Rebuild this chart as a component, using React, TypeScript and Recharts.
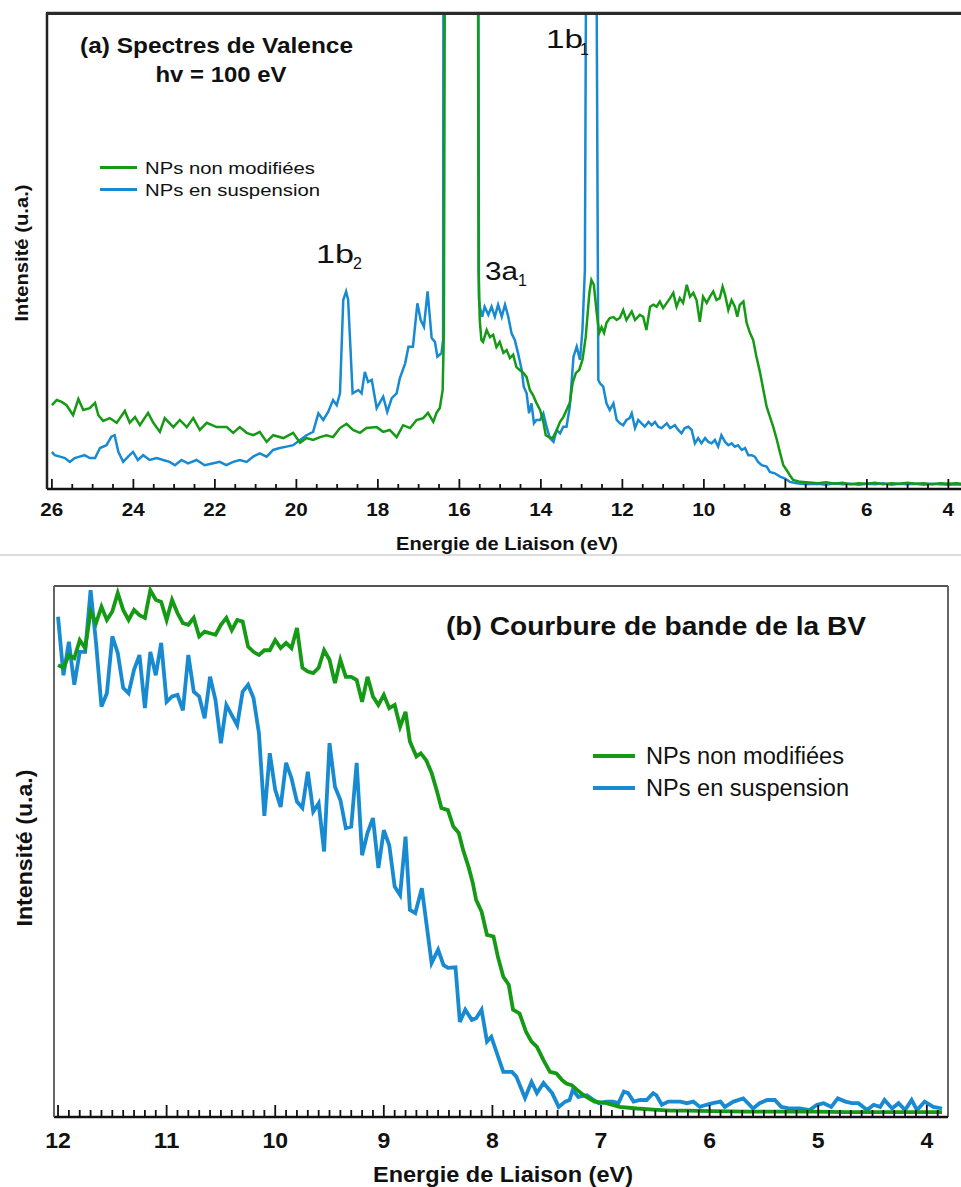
import { LineChart, Line, XAxis, YAxis, ReferenceLine } from 'recharts'

const GREEN = '#149a14'
const BLUE = '#178ad2'
const INK = '#111'
const FONT = '"Liberation Sans", Arial, Helvetica, sans-serif'

// (a) valence spectra, hv = 100 eV : [binding energy (eV), intensity (u.a.)]
const valenceNonModifiees: [number, number][] = [
  [26.0, 17.6], [25.88, 18.7], [25.76, 18.3], [25.64, 17.6], [25.48, 15.5], [25.35, 18.9], [25.23, 16.6],
  [25.07, 17.0], [24.94, 18.1], [24.86, 15.5], [24.74, 14.3], [24.58, 14.9], [24.41, 13.9], [24.21, 16.4],
  [24.09, 13.9], [23.96, 15.1], [23.84, 13.4], [23.64, 16.0], [23.51, 13.9], [23.35, 12.0], [23.23, 14.9],
  [23.02, 13.0], [22.86, 14.5], [22.69, 13.0], [22.53, 14.9], [22.37, 12.4], [22.2, 13.9], [21.96, 13.0],
  [21.71, 13.0], [21.55, 11.8], [21.39, 13.0], [21.22, 11.8], [21.06, 11.3], [20.9, 12.0], [20.73, 9.9],
  [20.57, 11.3], [20.32, 10.7], [20.08, 11.8], [19.91, 9.7], [19.75, 10.7], [19.59, 10.3], [19.42, 10.9],
  [19.26, 11.3], [19.1, 10.9], [18.93, 12.8], [18.77, 13.7], [18.61, 12.4], [18.44, 11.8], [18.28, 12.8],
  [18.03, 13.0], [17.87, 12.0], [17.71, 12.4], [17.54, 10.9], [17.38, 13.4], [17.21, 12.8], [17.05, 14.5],
  [16.89, 14.9], [16.77, 16.0], [16.64, 14.1], [16.56, 16.0], [16.48, 17.0], [16.41, 20.8], [16.38, 33.4],
  [16.3, 300], [16.0, 900], [15.56, 200], [15.53, 46], [15.5, 35.5], [15.46, 31.3], [15.42, 30.9],
  [15.33, 33.4], [15.25, 31.9], [15.17, 32.4], [15.09, 29.8], [15.01, 30.9], [14.92, 28.6], [14.84, 29.2],
  [14.76, 27.5], [14.68, 28.2], [14.6, 25.6], [14.52, 25.0], [14.43, 24.4], [14.35, 23.5], [14.27, 20.8],
  [14.19, 19.7], [14.11, 18.1], [14.02, 16.6], [13.94, 14.1], [13.88, 11.3], [13.8, 10.9], [13.71, 10.7],
  [13.61, 12.4], [13.53, 14.1], [13.45, 15.1], [13.37, 16.6], [13.29, 18.1], [13.22, 22.3], [13.14, 24.4],
  [13.06, 25.0], [12.98, 27.1], [12.9, 31.9], [12.81, 41.2], [12.76, 43.9], [12.7, 42.9], [12.63, 37.0],
  [12.57, 32.8], [12.51, 34.0], [12.45, 32.8], [12.39, 34.9], [12.31, 35.9], [12.22, 36.1], [12.14, 35.5],
  [12.06, 36.0], [11.98, 37.6], [11.9, 35.5], [11.77, 37.3], [11.69, 35.5], [11.57, 36.6], [11.49, 36.2],
  [11.41, 33.4], [11.32, 38.3], [11.24, 38.7], [11.16, 38.3], [11.08, 39.4], [11.0, 38.0], [10.91, 39.1],
  [10.83, 40.1], [10.75, 41.2], [10.67, 38.3], [10.59, 40.1], [10.51, 39.1], [10.42, 42.9], [10.34, 40.4],
  [10.26, 41.2], [10.18, 39.7], [10.1, 35.1], [10.02, 40.4], [9.93, 39.1], [9.85, 40.4], [9.77, 41.5],
  [9.69, 39.7], [9.61, 40.1], [9.54, 42.5], [9.48, 40.8], [9.4, 37.6], [9.32, 39.7], [9.24, 38.3],
  [9.18, 36.2], [9.12, 38.7], [9.03, 39.4], [8.95, 34.9], [8.87, 32.8], [8.79, 31.3], [8.71, 27.8],
  [8.62, 24.4], [8.54, 20.8], [8.46, 17.3], [8.38, 15.2], [8.3, 13.1], [8.22, 10.7], [8.13, 7.6],
  [8.05, 5.0], [7.97, 4.0], [7.89, 2.9], [7.81, 1.9], [7.64, 1.5], [7.48, 1.4], [7.2, 1.2], [7.0, 1.4],
  [6.8, 1.1], [6.6, 1.3], [6.4, 1.0], [6.2, 1.2], [6.0, 1.1], [5.8, 1.3], [5.6, 1.0], [5.4, 1.2],
  [5.2, 1.1], [5.0, 1.3], [4.8, 1.1], [4.6, 1.2], [4.4, 1.0], [4.2, 1.2], [4.0, 1.1], [3.8, 1.2], [3.69, 1.1],
]

const valenceSuspension: [number, number][] = [
  [26.0, 7.8], [25.93, 7.1], [25.8, 6.8], [25.68, 6.5], [25.56, 5.7], [25.44, 6.5], [25.32, 6.8],
  [25.2, 7.1], [25.07, 6.5], [24.94, 6.5], [24.82, 8.6], [24.66, 9.2], [24.54, 11.0], [24.46, 11.3],
  [24.37, 7.8], [24.25, 5.7], [24.13, 6.8], [24.01, 7.8], [23.89, 6.1], [23.76, 7.1], [23.6, 6.1],
  [23.43, 6.5], [23.27, 6.1], [23.11, 5.7], [22.98, 5.0], [22.82, 6.1], [22.66, 5.4], [22.45, 6.1],
  [22.25, 5.0], [22.04, 5.4], [21.88, 5.7], [21.72, 5.0], [21.55, 5.7], [21.39, 6.1], [21.22, 5.7],
  [21.06, 6.8], [20.9, 7.5], [20.73, 6.8], [20.57, 8.2], [20.41, 8.6], [20.24, 8.9], [20.08, 9.2],
  [19.91, 10.3], [19.75, 11.3], [19.59, 12.0], [19.46, 15.9], [19.34, 14.5], [19.22, 16.2], [19.1, 18.7],
  [19.01, 17.6], [18.93, 20.1], [18.85, 39.7], [18.78, 41.5], [18.73, 39.7], [18.62, 20.1], [18.48, 20.8],
  [18.4, 20.1], [18.32, 24.6], [18.24, 22.5], [18.15, 22.9], [18.03, 17.0], [17.87, 19.4], [17.77, 16.2],
  [17.66, 19.1], [17.54, 20.1], [17.46, 23.3], [17.33, 26.4], [17.25, 29.9], [17.14, 29.9], [17.03, 39.0],
  [16.95, 35.5], [16.87, 34.1], [16.78, 41.5], [16.68, 31.7], [16.6, 30.9], [16.54, 27.8], [16.44, 28.5],
  [16.4, 31.3], [16.37, 300], [16.0, 900], [15.57, 300], [15.52, 40.0], [15.5, 38.3], [15.44, 36.2],
  [15.38, 38.3], [15.29, 36.6], [15.21, 38.3], [15.13, 36.2], [15.05, 38.7], [14.96, 36.2], [14.88, 38.7],
  [14.8, 36.2], [14.72, 32.7], [14.64, 31.3], [14.56, 28.5], [14.47, 25.0], [14.42, 21.5], [14.35, 20.1],
  [14.29, 15.9], [14.23, 18.0], [14.17, 13.8], [14.11, 14.5], [14.02, 14.5], [13.94, 15.9], [13.86, 13.1],
  [13.78, 10.7], [13.69, 9.9], [13.61, 12.4], [13.53, 11.7], [13.45, 13.1], [13.37, 13.1], [13.29, 17.3],
  [13.2, 27.8], [13.12, 29.9], [13.04, 27.1], [12.98, 33.4], [12.92, 46.0], [12.85, 200], [12.77, 300],
  [12.68, 200], [12.59, 22.9], [12.55, 22.2], [12.47, 21.5], [12.39, 18.0], [12.31, 16.6], [12.22, 18.0],
  [12.14, 14.5], [12.06, 13.8], [11.98, 13.4], [11.9, 14.5], [11.82, 14.9], [11.77, 15.9], [11.69, 12.8],
  [11.61, 14.5], [11.53, 13.8], [11.45, 13.1], [11.36, 14.1], [11.28, 13.4], [11.2, 14.1], [11.12, 13.1],
  [11.04, 12.8], [10.91, 13.8], [10.83, 12.8], [10.71, 13.4], [10.63, 12.4], [10.55, 11.7], [10.47, 12.8],
  [10.38, 13.1], [10.3, 12.4], [10.22, 9.6], [10.14, 10.7], [10.06, 9.6], [9.97, 10.7], [9.89, 9.9],
  [9.81, 9.6], [9.73, 10.3], [9.65, 8.9], [9.57, 11.3], [9.48, 9.9], [9.4, 9.2], [9.32, 9.6], [9.24, 8.9],
  [9.16, 9.2], [9.07, 8.2], [8.99, 8.6], [8.91, 7.1], [8.83, 7.1], [8.75, 6.8], [8.67, 5.7], [8.58, 5.0],
  [8.46, 4.7], [8.38, 3.6], [8.26, 3.3], [8.13, 2.6], [8.01, 2.2], [7.89, 1.5], [7.72, 1.2], [7.5, 1.0],
  [7.2, 1.1], [7.0, 0.9], [6.8, 1.2], [6.6, 1.0], [6.4, 1.1], [6.2, 0.9], [6.0, 1.1], [5.8, 1.0],
  [5.6, 1.2], [5.4, 0.9], [5.2, 1.1], [5.0, 1.0], [4.8, 1.1], [4.6, 0.9], [4.4, 1.1], [4.2, 1.0],
  [4.0, 0.9], [3.8, 1.0], [3.69, 0.9],
]

// (b) band bending of the valence band edge
const bandNonModifiees: [number, number][] = [
  [12.0, 85.1], [11.95, 84.6], [11.9, 87.0], [11.85, 86.4], [11.8, 89.8], [11.75, 88.3], [11.7, 95.2],
  [11.65, 93.0], [11.6, 96.1], [11.55, 93.6], [11.5, 95.2], [11.45, 98.7], [11.4, 95.5], [11.35, 93.6],
  [11.3, 95.5], [11.25, 94.5], [11.2, 94.0], [11.15, 99.2], [11.1, 97.4], [11.05, 97.0], [11.0, 93.6],
  [10.95, 97.4], [10.9, 94.9], [10.85, 93.0], [10.8, 92.7], [10.75, 94.0], [10.7, 90.5], [10.65, 91.4],
  [10.6, 91.1], [10.55, 90.8], [10.5, 92.7], [10.45, 94.0], [10.4, 91.7], [10.35, 93.6], [10.3, 93.3],
  [10.25, 88.6], [10.2, 87.6], [10.15, 87.0], [10.1, 87.9], [10.05, 87.9], [10.0, 89.8], [9.95, 88.3],
  [9.9, 89.3], [9.85, 88.3], [9.8, 92.1], [9.75, 84.6], [9.7, 83.9], [9.65, 83.6], [9.6, 84.6],
  [9.55, 87.9], [9.5, 86.1], [9.45, 81.7], [9.4, 86.1], [9.35, 82.9], [9.3, 82.9], [9.25, 82.3],
  [9.2, 78.2], [9.15, 82.9], [9.1, 79.2], [9.05, 77.6], [9.0, 79.5], [8.95, 77.0], [8.9, 77.6],
  [8.85, 73.5], [8.8, 76.3], [8.76, 70.7], [8.7, 67.9], [8.66, 68.5], [8.61, 67.2], [8.56, 64.8],
  [8.51, 61.3], [8.47, 58.2], [8.41, 57.8], [8.36, 54.7], [8.31, 53.5], [8.27, 50.3], [8.22, 47.1],
  [8.18, 44.0], [8.15, 40.9], [8.1, 38.7], [8.05, 34.3], [7.99, 34.0], [7.95, 30.2], [7.9, 26.4],
  [7.85, 24.9], [7.81, 20.2], [7.75, 19.5], [7.69, 16.0], [7.64, 14.2], [7.59, 13.2], [7.53, 10.7],
  [7.47, 8.5], [7.41, 8.2], [7.36, 7.0], [7.32, 6.3], [7.27, 6.0], [7.22, 5.1], [7.16, 4.1], [7.06, 2.9],
  [6.95, 2.6], [6.83, 1.9], [6.67, 1.6], [6.52, 1.4], [6.36, 1.2], [6.21, 1.2], [5.97, 1.1], [5.66, 1.0],
  [5.35, 1.0], [5.05, 1.0], [4.74, 0.9], [4.43, 0.9], [3.86, 0.9],
]

const bandSuspension: [number, number][] = [
  [12.0, 94.2], [11.95, 83.2], [11.9, 89.5], [11.85, 81.4], [11.8, 87.6], [11.75, 87.6], [11.7, 99.2],
  [11.65, 89.3], [11.6, 77.3], [11.55, 79.8], [11.5, 90.5], [11.45, 87.4], [11.4, 80.8], [11.35, 79.8],
  [11.3, 84.2], [11.25, 87.0], [11.2, 77.0], [11.15, 87.6], [11.1, 83.2], [11.05, 89.3], [11.0, 78.2],
  [10.95, 79.2], [10.9, 79.5], [10.85, 76.6], [10.8, 87.0], [10.75, 80.1], [10.7, 79.2], [10.65, 75.1],
  [10.6, 82.9], [10.55, 78.5], [10.5, 70.4], [10.45, 77.6], [10.4, 75.7], [10.35, 73.8], [10.3, 80.1],
  [10.25, 81.4], [10.2, 78.9], [10.15, 72.3], [10.1, 56.7], [10.05, 68.5], [10.0, 61.6], [9.95, 58.4],
  [9.9, 66.7], [9.85, 63.8], [9.8, 59.4], [9.75, 58.2], [9.7, 65.0], [9.65, 57.5], [9.6, 59.1],
  [9.55, 50.0], [9.5, 70.4], [9.45, 62.2], [9.4, 59.7], [9.35, 54.4], [9.3, 54.7], [9.25, 66.7],
  [9.2, 49.3], [9.15, 53.5], [9.1, 56.3], [9.05, 46.9], [9.0, 54.0], [8.95, 51.2], [8.9, 43.4],
  [8.85, 41.8], [8.8, 52.8], [8.76, 39.0], [8.71, 38.4], [8.65, 43.1], [8.56, 29.0], [8.5, 31.5],
  [8.45, 28.6], [8.41, 28.1], [8.34, 28.2], [8.3, 17.9], [8.25, 20.2], [8.19, 18.3], [8.15, 18.6],
  [8.1, 20.2], [8.05, 14.2], [8.01, 15.1], [7.96, 12.1], [7.9, 8.5], [7.82, 8.5], [7.78, 7.6], [7.7, 3.6],
  [7.64, 6.6], [7.59, 4.5], [7.53, 6.4], [7.45, 4.5], [7.39, 1.9], [7.33, 2.9], [7.29, 3.2], [7.26, 5.1],
  [7.21, 3.8], [7.13, 4.1], [7.07, 3.2], [7.02, 2.6], [6.95, 2.9], [6.89, 2.9], [6.84, 2.6], [6.79, 4.8],
  [6.75, 4.5], [6.7, 2.9], [6.64, 3.2], [6.58, 3.2], [6.52, 4.5], [6.49, 4.1], [6.44, 2.3], [6.38, 2.9],
  [6.33, 2.9], [6.27, 2.9], [6.21, 2.6], [6.15, 2.9], [6.09, 1.9], [6.03, 2.3], [5.97, 2.6], [5.9, 2.9],
  [5.86, 1.9], [5.78, 2.9], [5.69, 3.5], [5.6, 1.6], [5.54, 2.6], [5.47, 3.2], [5.4, 3.2], [5.34, 1.9],
  [5.26, 1.6], [5.17, 1.6], [5.08, 1.3], [5.01, 2.3], [4.95, 2.6], [4.88, 1.9], [4.82, 3.5], [4.75, 2.9],
  [4.69, 2.6], [4.63, 2.6], [4.55, 1.3], [4.49, 2.3], [4.43, 1.9], [4.39, 3.2], [4.32, 1.6], [4.26, 2.6],
  [4.2, 1.3], [4.14, 3.2], [4.09, 1.3], [4.02, 2.9], [3.94, 1.9], [3.86, 1.6],
]

const VALENCE_LABELS = [26, 24, 22, 20, 18, 16, 14, 12, 10, 8, 6, 4]
const BAND_LABELS = [12, 11, 10, 9, 8, 7, 6, 5, 4]

// minor ticks: every 0.5 eV on (a), every 0.1 eV on (b)
const valenceTicks = Array.from({ length: 45 }, (_, i) => 26 - i * 0.5)
const bandTicks = Array.from({ length: 82 }, (_, i) => Math.round(120 - i) / 10)

const toPts = (arr: [number, number][]) => arr.map(([e, v]) => ({ e, v }))

function makeTick(labels: number[], majorLen: number, minorLen: number, fontSize: number, dy: number, digitW: number) {
  return (props: any) => {
    const { x, y, payload } = props
    const val = payload.value
    const major = labels.some(l => Math.abs(l - val) < 1e-6)
    const txt = String(Math.round(val))
    return (
      <g>
        <line x1={x} x2={x} y1={y} y2={y - (major ? majorLen : minorLen)} stroke={INK} strokeWidth={1.8} />
        {major && (
          <text
            x={x} y={y + dy} textAnchor="middle" fontFamily={FONT} fontWeight="bold"
            fontSize={fontSize} fill={INK} textLength={txt.length * digitW} lengthAdjust="spacingAndGlyphs"
          >
            {txt}
          </text>
        )}
      </g>
    )
  }
}

const valenceTick = makeTick(VALENCE_LABELS, 10, 5, 18, 26.5, 11.5)
const bandTick = makeTick(BAND_LABELS, 12, 7, 22, 31, 12.8)

function T(p: { x: number; y: number; size: number; len?: number; bold?: boolean; anchor?: string; rotate?: boolean; children: any }) {
  const common = {
    fontFamily: FONT,
    fontSize: p.size,
    fontWeight: p.bold ? 'bold' : 'normal',
    fill: INK,
    textAnchor: p.anchor ?? 'start',
    textLength: p.len,
    lengthAdjust: p.len ? 'spacingAndGlyphs' : undefined,
  } as any
  if (p.rotate) {
    return <text {...common} transform={`translate(${p.x},${p.y}) rotate(-90)`}>{p.children}</text>
  }
  return <text {...common} x={p.x} y={p.y}>{p.children}</text>
}

export default function App() {
  return (
    <div style={{ position: 'absolute', left: 0, top: 0, width: 961, height: 1187, background: '#fff', overflow: 'hidden' }}>
      <div style={{ position: 'absolute', left: 0, top: 0 }}>
        <LineChart width={961} height={560} margin={{ top: 13, right: 0, bottom: 0, left: 0 }}>
          <XAxis
            dataKey="e" type="number" domain={[3.69, 26.12]} reversed allowDataOverflow
            ticks={valenceTicks} interval={0} tick={valenceTick} tickLine={false} tickSize={0} tickMargin={0}
            height={71} axisLine={{ stroke: INK, strokeWidth: 2.5 }}
          />
          <YAxis
            type="number" domain={[0, 100]} allowDataOverflow width={47}
            tick={false} tickLine={false} axisLine={{ stroke: '#222', strokeWidth: 2.5 }}
          />
          <ReferenceLine y={100} stroke="#333" strokeWidth={2.5} ifOverflow="visible" />
          <Line data={toPts(valenceSuspension)} dataKey="v" type="linear" stroke={BLUE} strokeWidth={2.5} dot={false} isAnimationActive={false} />
          <Line data={toPts(valenceNonModifiees)} dataKey="v" type="linear" stroke={GREEN} strokeWidth={2.5} dot={false} isAnimationActive={false} />
        </LineChart>
      </div>

      <div style={{ position: 'absolute', left: 0, top: 560 }}>
        <LineChart width={961} height={627} margin={{ top: 26, right: 13, bottom: 0, left: 0 }}>
          <XAxis
            dataKey="e" type="number" domain={[3.805, 12.037]} reversed allowDataOverflow
            ticks={bandTicks} interval={0} tick={bandTick} tickLine={false} tickSize={0} tickMargin={0}
            height={70} axisLine={{ stroke: INK, strokeWidth: 2.5 }}
          />
          <YAxis
            type="number" domain={[0, 100]} allowDataOverflow width={54}
            tick={false} tickLine={false} axisLine={{ stroke: '#555', strokeWidth: 1.8 }}
          />
          <ReferenceLine y={100} stroke="#555" strokeWidth={1.8} ifOverflow="visible" />
          <ReferenceLine x={3.805} stroke="#555" strokeWidth={1.8} ifOverflow="visible" />
          <Line data={toPts(bandSuspension)} dataKey="v" type="linear" stroke={BLUE} strokeWidth={3.8} dot={false} isAnimationActive={false} />
          <Line data={toPts(bandNonModifiees)} dataKey="v" type="linear" stroke={GREEN} strokeWidth={3.8} dot={false} isAnimationActive={false} />
        </LineChart>
      </div>

      <svg width={961} height={1187} style={{ position: 'absolute', left: 0, top: 0, pointerEvents: 'none' }}>
        <rect x={0} y={554} width={961} height={2} fill="#dcdcdc" />
        {/* frame top edge of panel (a) */}
        <rect x={46} y={12} width={915} height={3} fill="#2a2a2a" />

        {/* panel (a) */}
        <T x={80} y={52.5} size={22} bold len={273}>(a) Spectres de Valence</T>
        <T x={221} y={81.5} size={22} bold anchor="middle" len={131}>hv = 100 eV</T>
        <line x1={100} x2={137} y1={167.5} y2={167.5} stroke={GREEN} strokeWidth={3} />
        <line x1={100} x2={137} y1={189.5} y2={189.5} stroke={BLUE} strokeWidth={3} />
        <T x={145} y={173.5} size={17} len={170}>NPs non modifiées</T>
        <T x={145} y={195.5} size={17} len={175}>NPs en suspension</T>
        <T x={316} y={263} size={25} len={38}>1b</T>
        <T x={353} y={269} size={16}>2</T>
        <T x={485} y={280} size={25} len={33}>3a</T>
        <T x={518} y={286} size={16}>1</T>
        <T x={546} y={48} size={25} len={37}>1b</T>
        <T x={580} y={55} size={16}>1</T>
        <T x={507} y={550} size={18.5} bold anchor="middle" len={222}>Energie de Liaison (eV)</T>
        <T x={27.5} y={253} size={19} bold anchor="middle" rotate len={137}>Intensité (u.a.)</T>

        {/* panel (b) */}
        <T x={446} y={635} size={26} bold len={420}>(b) Courbure de bande de la BV</T>
        <line x1={593} x2={635} y1={756} y2={756} stroke={GREEN} strokeWidth={4} />
        <line x1={593} x2={635} y1={788} y2={788} stroke={BLUE} strokeWidth={4} />
        <T x={646} y={763.5} size={23} len={198}>NPs non modifiées</T>
        <T x={646} y={795.5} size={23} len={203}>NPs en suspension</T>
        <T x={503} y={1182} size={21.5} bold anchor="middle" len={260}>Energie de Liaison (eV)</T>
        <T x={32} y={848} size={22} bold anchor="middle" rotate len={157}>Intensité (u.a.)</T>
      </svg>
    </div>
  )
}
